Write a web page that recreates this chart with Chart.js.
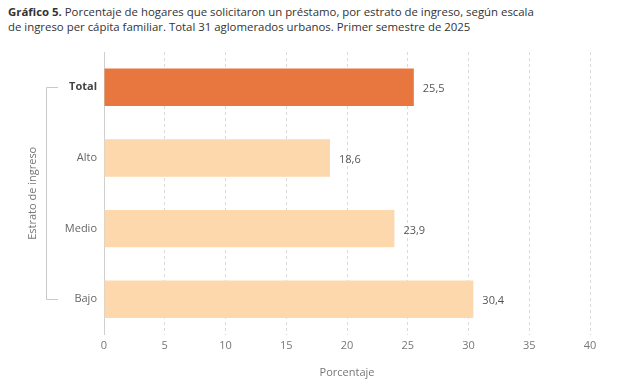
<!DOCTYPE html>
<html><head><meta charset="utf-8">
<script src="https://cdn.jsdelivr.net/npm/chart.js@4.4.1/dist/chart.umd.min.js"></script>
<style>
html,body{margin:0;padding:0;background:#fff;}
#wrap{position:relative;width:622px;height:383px;}
#title{position:absolute;left:8px;top:4px;white-space:nowrap;font-family:"Open Sans",sans-serif;font-size:11.4px;line-height:15px;color:#333;}
#title b{font-weight:700;}
canvas{position:absolute;left:0;top:0;}
</style></head>
<body>
<div id="wrap">
<div id="title"><b>Gráfico 5.</b> Porcentaje de hogares que solicitaron un préstamo, por estrato de ingreso, según escala<br>de ingreso per cápita familiar. Total 31 aglomerados urbanos. Primer semestre de 2025</div>
<canvas id="c" width="622" height="383"></canvas>
</div>
<script>
const categories = ["Total", "Alto", "Medio", "Bajo"];
const values = [25.5, 18.6, 23.9, 30.4];
const barColors = ["#E8773F", "#FDD8AD", "#FDD8AD", "#FDD8AD"];
const xTickMax = 40;
const xTickStep = 5;

const FONT = '"Open Sans", sans-serif';

const labelPlugin = {
  id: 'valueLabels',
  afterDatasetsDraw(chart) {
    const ctx = chart.ctx;
    const meta = chart.getDatasetMeta(0);
    ctx.save();
    ctx.font = '11px ' + FONT;
    ctx.fillStyle = '#555';
    ctx.textAlign = 'left';
    ctx.textBaseline = 'middle';
    meta.data.forEach((bar, i) => {
      ctx.fillText(values[i].toFixed(1).replace('.', ','), bar.x + 9, bar.y + 2);
    });
    ctx.restore();
  }
};

const bracketPlugin = {
  id: 'bracket',
  afterDraw(chart) {
    const y = chart.scales.y;
    const top = y.getPixelForValue(0);
    const bottom = y.getPixelForValue(categories.length - 1);
    const ctx = chart.ctx;
    ctx.save();
    ctx.strokeStyle = '#c8c8c8';
    ctx.lineWidth = 1;
    ctx.beginPath();
    ctx.moveTo(58, Math.round(top) + 0.5);
    ctx.lineTo(46.5, Math.round(top) + 0.5);
    ctx.lineTo(46.5, Math.round(bottom) + 0.5);
    ctx.lineTo(58, Math.round(bottom) + 0.5);
    ctx.stroke();
    ctx.restore();
  }
};

new Chart(document.getElementById('c'), {
  type: 'bar',
  data: {
    labels: categories,
    datasets: [{
      data: values,
      backgroundColor: barColors,
      borderWidth: 0,
      barPercentage: 0.53,
      categoryPercentage: 1.0
    }]
  },
  options: {
    indexAxis: 'y',
    responsive: false,
    animation: false,
    layout: { padding: { top: 52, right: 32, left: 0, bottom: 4 } },
    plugins: { legend: { display: false }, tooltip: { enabled: false } },
    scales: {
      x: {
        min: 0, max: xTickMax,
        ticks: { stepSize: xTickStep, color: '#777', font: { family: FONT, size: 11 }, padding: 5 },
        grid: { color: '#d9d9d9', drawTicks: false },
        border: { display: false, dash: [3, 3] },
        title: { display: true, text: 'Porcentaje', color: '#777', font: { family: FONT, size: 11 }, padding: { top: 8, bottom: 0 } }
      },
      y: {
        afterFit(s) { s.width = 104; },
        ticks: {
          color: (c) => c.index === 0 ? '#444' : '#666',
          font: (c) => ({ family: FONT, size: 11, weight: c.index === 0 ? 'bold' : 'normal' }),
          padding: 7
        },
        grid: { display: false, drawTicks: false },
        border: { display: true, color: '#cfcfcf' },
        title: { display: true, text: 'Estrato de ingreso', color: '#777', font: { family: FONT, size: 11 }, padding: { top: 26, bottom: 0 } }
      }
    }
  },
  plugins: [labelPlugin, bracketPlugin]
});
</script>
</body></html>
